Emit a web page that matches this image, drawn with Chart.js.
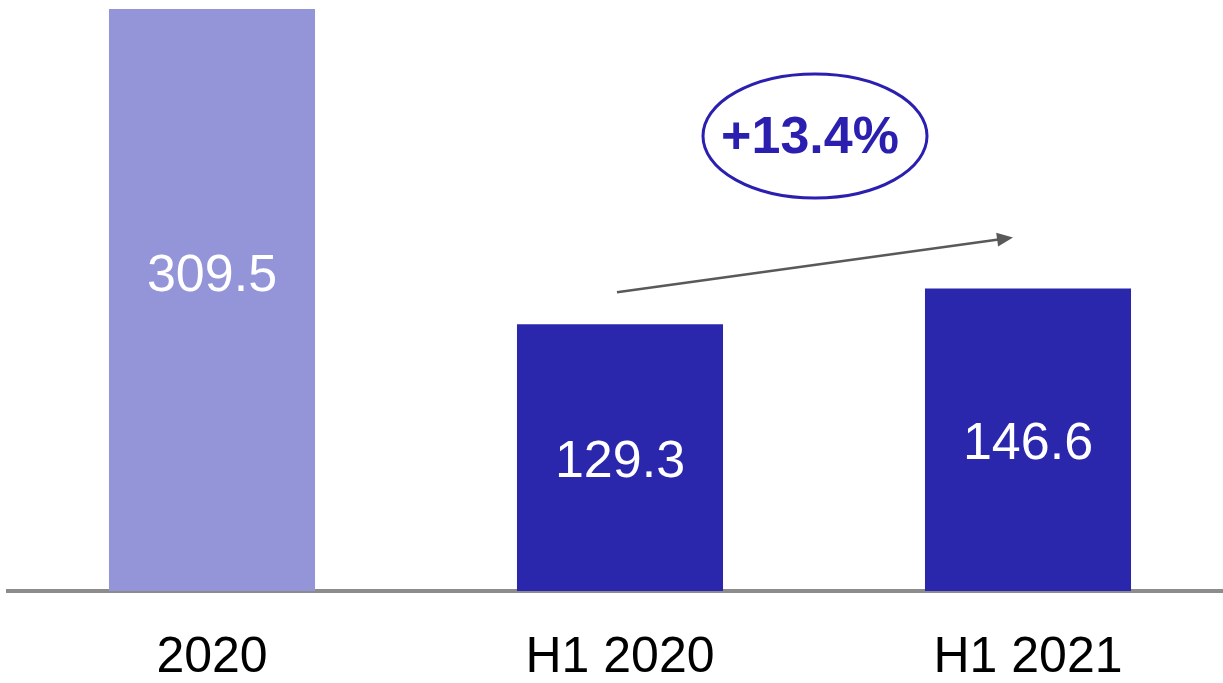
<!DOCTYPE html>
<html>
<head>
<meta charset="utf-8">
<script src="https://cdn.jsdelivr.net/npm/chart.js@4/dist/chart.umd.min.js"></script>
<style>
  html, body { margin: 0; padding: 0; background: #fff; overflow: hidden; }
  canvas { display: block; }
</style>
</head>
<body>
<canvas id="chart" width="1232" height="683"></canvas>
<script>
// chart data
const categories = ['2020', 'H1 2020', 'H1 2021'];
const values = [309.5, 129.3, 146.6];
const barColors = ['#9494d8', '#2b27ad', '#2b27ad'];
const growthLabel = '+13.4%';

const FONT = "'Liberation Sans', Arial, sans-serif";

// white value labels, centred on the (virtual) full bar
const valueLabels = {
  id: 'valueLabels',
  afterDatasetsDraw(chart) {
    const { ctx, scales: { x, y } } = chart;
    ctx.save();
    ctx.fillStyle = '#ffffff';
    ctx.font = '52px ' + FONT;
    ctx.textAlign = 'center';
    ctx.textBaseline = 'middle';
    values.forEach((v, i) => {
      ctx.fillText(v.toFixed(1), x.getPixelForValue(i), y.getPixelForValue(v / 2) + 5);
    });
    ctx.restore();
  }
};

// growth arrow + ellipse callout
const growthCallout = {
  id: 'growthCallout',
  afterDraw(chart) {
    const { ctx, scales: { x, y } } = chart;
    const x1 = x.getPixelForValue(1) - 3;
    const y1 = y.getPixelForValue(values[1]) - 32;
    const x2 = x.getPixelForValue(2) - 15;
    const y2 = y.getPixelForValue(values[2]) - 51;

    ctx.save();
    ctx.strokeStyle = '#595959';
    ctx.fillStyle = '#595959';
    ctx.lineWidth = 2.5;
    const ang = Math.atan2(y2 - y1, x2 - x1);
    const head = 16;
    ctx.beginPath();
    ctx.moveTo(x1, y1);
    ctx.lineTo(x2 - Math.cos(ang) * head * 0.8, y2 - Math.sin(ang) * head * 0.8);
    ctx.stroke();
    ctx.beginPath();
    ctx.moveTo(x2, y2);
    ctx.lineTo(x2 - Math.cos(ang) * head - Math.sin(ang) * 7, y2 - Math.sin(ang) * head + Math.cos(ang) * 7);
    ctx.lineTo(x2 - Math.cos(ang) * head + Math.sin(ang) * 7, y2 - Math.sin(ang) * head - Math.cos(ang) * 7);
    ctx.closePath();
    ctx.fill();

    const cx = (x1 + x2) / 2;
    const cy = 136;
    ctx.strokeStyle = '#2b1fb0';
    ctx.lineWidth = 3;
    ctx.beginPath();
    ctx.ellipse(cx, cy, 112, 62, 0, 0, Math.PI * 2);
    ctx.stroke();

    ctx.fillStyle = '#2b1fb0';
    ctx.font = 'bold 52px ' + FONT;
    ctx.textAlign = 'center';
    ctx.textBaseline = 'middle';
    ctx.fillText(growthLabel, cx - 5, cy + 3);
    ctx.restore();
  }
};

new Chart(document.getElementById('chart'), {
  type: 'bar',
  data: {
    labels: categories,
    datasets: [{
      data: values,
      backgroundColor: barColors,
      borderWidth: 0,
      barPercentage: 1,
      categoryPercentage: 0.505
    }]
  },
  options: {
    responsive: false,
    animation: false,
    layout: { padding: { top: 9, left: 8, right: 0, bottom: 5 } },
    plugins: {
      legend: { display: false },
      tooltip: { enabled: false }
    },
    scales: {
      x: {
        grid: { display: false },
        border: { display: true, color: '#8c8c8c', width: 4 },
        afterFit(scale) { scale.height = 87; },
        ticks: {
          color: '#000000',
          padding: 34,
          maxRotation: 0,
          font: { family: FONT, size: 50, lineHeight: 1 }
        }
      },
      y: {
        display: false,
        min: 0,
        max: 282
      }
    }
  },
  plugins: [valueLabels, growthCallout]
});
</script>
</body>
</html>
